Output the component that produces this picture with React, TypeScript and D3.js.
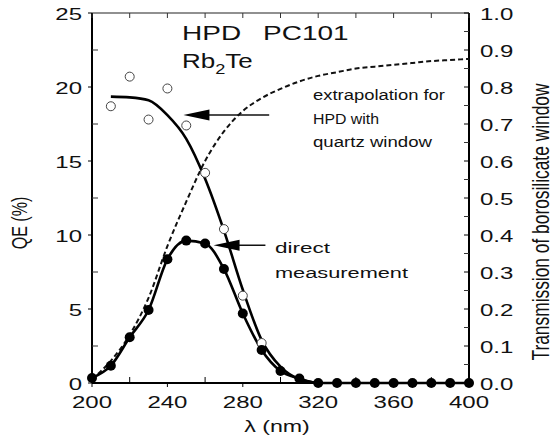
import React from 'react';
import * as d3 from 'd3';

// wavelengths of the direct measurement (nm)
const lambdaNm = [200, 210, 220, 230, 240, 250, 260, 270, 280, 290, 300, 310, 320, 330, 340, 350, 360, 370, 380, 390, 400];
// QE (%) measured through the borosilicate window
const qeDirect = [0.34, 1.17, 3.09, 4.93, 8.36, 9.62, 9.43, 7.7, 4.7, 2.23, 0.81, 0.3, 0, 0, 0, 0, 0, 0, 0, 0, 0];
// transmission of the borosilicate window (right axis)
const transmission = [0.01, 0.06, 0.13, 0.23, 0.37, 0.49, 0.6, 0.68, 0.735, 0.77, 0.795, 0.815, 0.83, 0.84, 0.85, 0.855, 0.86, 0.865, 0.87, 0.873, 0.876];
// extrapolated QE for a quartz window (smooth curve)
const quartzCurveNm = [210, 220, 230, 240, 250, 260, 270, 280, 290, 300, 310, 320];
const qeQuartzCurve = [19.35, 19.3, 19.1, 18.1, 16.5, 13.8, 10.3, 6.3, 2.9, 1.1, 0.25, 0];
// extrapolated QE points (open circles)
const quartzPtsNm = [210, 220, 230, 240, 250, 260, 270, 280, 290];
const qeQuartzPts = [18.7, 20.7, 17.8, 19.9, 17.4, 14.2, 10.4, 5.9, 2.7];

// ticks
const lambdaTicks = [200, 240, 280, 320, 360, 400];
const lambdaMinor = [220, 260, 300, 340, 380];
const qeTicks = [0, 5, 10, 15, 20, 25];
const qeMinor = [2.5, 7.5, 12.5, 17.5, 22.5];
const transTicks = [0, 0.1, 0.2, 0.3, 0.4, 0.5, 0.6, 0.7, 0.8, 0.9, 1.0];
const transMinor = [0.05, 0.15, 0.25, 0.35, 0.45, 0.55, 0.65, 0.75, 0.85, 0.95];

const FONT = '"Liberation Sans", Arial, Helvetica, sans-serif';

type TxtProps = {
  x: number; y: number; size?: number; sx?: number; anchor?: string;
  rotate?: number; len?: number; children: React.ReactNode;
};

// the source picture is stretched sideways, so text gets a horizontal scale
const Txt = ({ x, y, size = 16, sx = 1.5, anchor = 'start', rotate = 0, len, children }: TxtProps) => (
  <text
    transform={`translate(${x},${y}) scale(${sx},1)${rotate ? ` rotate(${rotate})` : ''}`}
    fontFamily={FONT}
    fontSize={size}
    textAnchor={anchor}
    textLength={len}
    lengthAdjust={len ? 'spacingAndGlyphs' : undefined}
    fill="#111"
  >
    {children}
  </text>
);

const App = () => {
  const width = 558;
  const height = 442;
  const left = 92, right = 469, top = 13, bottom = 383;

  const x = d3.scaleLinear().domain([200, 400]).range([left, right]);
  const yQE = d3.scaleLinear().domain([0, 25]).range([bottom, top]);
  const yT = d3.scaleLinear().domain([0, 1]).range([bottom, top]);

  const direct = lambdaNm.map((l, i) => [l, qeDirect[i]] as [number, number]);
  const trans = lambdaNm.map((l, i) => [l, transmission[i]] as [number, number]);
  const quartz = quartzCurveNm.map((l, i) => [l, qeQuartzCurve[i]] as [number, number]);

  const qeLine = d3.line<[number, number]>()
    .x(d => x(d[0]))
    .y(d => yQE(d[1]))
    .curve(d3.curveMonotoneX);
  const tLine = d3.line<[number, number]>()
    .x(d => x(d[0]))
    .y(d => yT(d[1]))
    .curve(d3.curveMonotoneX);

  // arrows pointing at the two curves
  const arrows = [
    { tip: [x(248.5), yQE(18.1)], tail: x(294) },
    { tip: [x(264.5), yQE(9.3)], tail: x(292) },
  ];

  return (
    <svg width={width} height={height} style={{ position: 'absolute', left: 0, top: 0, background: '#fff' }}>
      <rect width={width} height={height} fill="#fff" />

      {/* frame */}
      <line x1={left} x2={right} y1={top} y2={top} stroke="#222" strokeWidth={1.2} />
      <line x1={left} x2={left} y1={top} y2={bottom} stroke="#000" strokeWidth={2} />
      <line x1={right} x2={right} y1={top} y2={bottom} stroke="#000" strokeWidth={2} />
      <line x1={left} x2={right} y1={bottom} y2={bottom} stroke="#000" strokeWidth={2} />

      {/* x ticks */}
      {lambdaTicks.map(t => (
        <g key={'xt' + t}>
          <line x1={x(t)} x2={x(t)} y1={bottom} y2={bottom + 4} stroke="#000" strokeWidth={1} />
          <line x1={x(t)} x2={x(t)} y1={top} y2={top + 5} stroke="#333" strokeWidth={1} />
          <Txt x={x(t)} y={408} anchor="middle">{t}</Txt>
        </g>
      ))}
      {lambdaMinor.map(t => (
        <g key={'xm' + t}>
          <line x1={x(t)} x2={x(t)} y1={bottom} y2={bottom - 6} stroke="#000" strokeWidth={1} />
          <line x1={x(t)} x2={x(t)} y1={top} y2={top + 5} stroke="#333" strokeWidth={1} />
        </g>
      ))}

      {/* left ticks */}
      {qeTicks.map(t => (
        <g key={'yt' + t}>
          <line x1={left - 4} x2={left} y1={yQE(t)} y2={yQE(t)} stroke="#000" strokeWidth={1} />
          <Txt x={82} y={yQE(t) + 6.5} anchor="end">{t}</Txt>
        </g>
      ))}
      {qeMinor.map(t => (
        <line key={'ym' + t} x1={left} x2={left + 6} y1={yQE(t)} y2={yQE(t)} stroke="#333" strokeWidth={1} />
      ))}

      {/* right ticks */}
      {transTicks.map(t => (
        <g key={'rt' + t}>
          <line x1={right - 5} x2={right} y1={yT(t)} y2={yT(t)} stroke="#000" strokeWidth={1} />
          <Txt x={480} y={yT(t) + 7} anchor="start">{t.toFixed(1)}</Txt>
        </g>
      ))}
      {transMinor.map(t => (
        <line key={'rm' + t} x1={right - 5} x2={right} y1={yT(t)} y2={yT(t)} stroke="#333" strokeWidth={1} />
      ))}

      {/* axis titles */}
      <Txt x={277} y={432} anchor="middle" sx={1.45}>λ (nm)</Txt>
      <Txt x={27} y={223} anchor="middle" sx={1.35} rotate={-90}>QE (%)</Txt>
      <Txt x={549} y={222} anchor="middle" size={17} sx={1.45} rotate={-90} len={277}>Transmission of borosilicate window</Txt>

      {/* transmission, dashed */}
      <path d={tLine(trans) ?? ''} fill="none" stroke="#111" strokeWidth={2} strokeDasharray="5,3" />

      {/* quartz extrapolation curve */}
      <path d={qeLine(quartz) ?? ''} fill="none" stroke="#000" strokeWidth={2.6} />

      {/* direct measurement */}
      <path d={qeLine(direct) ?? ''} fill="none" stroke="#000" strokeWidth={2.6} />

      {quartzPtsNm.map((l, i) => (
        <circle key={'o' + l} cx={x(l)} cy={yQE(qeQuartzPts[i])} r={4.5} fill="#fff" stroke="#444" strokeWidth={1} />
      ))}
      {direct.map(d => (
        <circle key={'f' + d[0]} cx={x(d[0])} cy={yQE(d[1])} r={5} fill="#000" />
      ))}

      {/* arrows */}
      {arrows.map((a, i) => (
        <g key={'a' + i}>
          <line x1={a.tip[0] + 20} x2={a.tail} y1={a.tip[1]} y2={a.tip[1]} stroke="#111" strokeWidth={1.5} />
          <path d={`M${a.tip[0]},${a.tip[1]} L${a.tip[0] + 26},${a.tip[1] - 5.5} L${a.tip[0] + 26},${a.tip[1] + 5.5} Z`} fill="#000" />
        </g>
      ))}

      {/* labels */}
      <Txt x={182} y={40} size={20} sx={1.4}>HPD</Txt>
      <Txt x={263} y={40} size={20} sx={1.4}>PC101</Txt>
      <text transform="translate(182,68) scale(1.3,1)" fontFamily={FONT} fontSize={20} fill="#111">
        Rb<tspan fontSize={14} dy={6}>2</tspan><tspan dy={-6}>Te</tspan>
      </text>

      <Txt x={313} y={100} size={15.5} sx={1} len={132}>extrapolation for</Txt>
      <Txt x={313} y={124} size={15.5} sx={1} len={66}>HPD with</Txt>
      <Txt x={313} y={147} size={15.5} sx={1} len={119}>quartz window</Txt>
      <Txt x={275} y={253} size={15.5} sx={1} len={55}>direct</Txt>
      <Txt x={275} y={278} size={15.5} sx={1} len={133}>measurement</Txt>
    </svg>
  );
};

export default App;
